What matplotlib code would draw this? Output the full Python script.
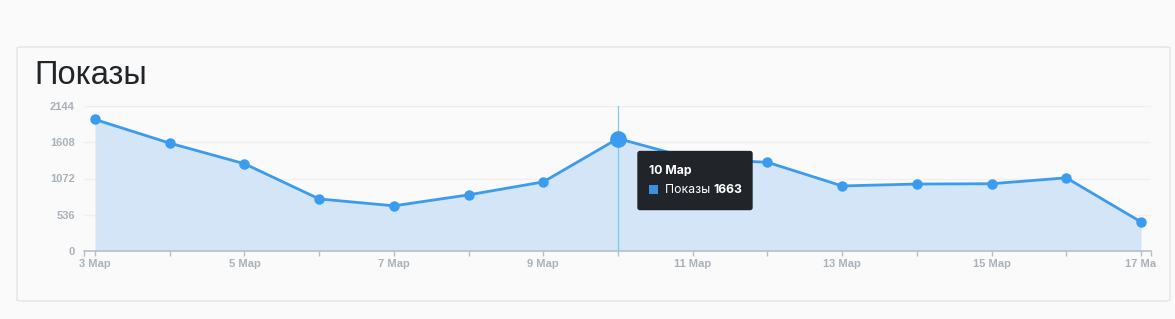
import matplotlib.pyplot as plt
import numpy as np
from matplotlib.patches import FancyBboxPatch, Rectangle

days = [3, 4, 5, 6, 7, 8, 9, 10, 11, 12, 13, 14, 15, 16, 17]
views = [1945, 1595, 1290, 770, 668, 830, 1022, 1663, 1362, 1312, 962, 990, 995, 1082, 430]
month = 'Мар'
yticks = [0, 536, 1072, 1608, 2144]
hover = 7  # index of hovered point (10 Мар)

line_c = '#3b9bee'
fill_c = '#d3e5f6'
grid_c = '#efefef'
axis_c = '#b6bfc8'
label_c = '#a9b1b9'

plt.rcParams['font.family'] = ['Liberation Sans', 'DejaVu Sans']

fig = plt.figure(figsize=(11.75, 3.19), dpi=100)
fig.patch.set_facecolor('#fafafa')

# card
card = FancyBboxPatch((17 / 1175, 1 - 301 / 319), (1170 - 17) / 1175, (301 - 47) / 319,
                      boxstyle='round,pad=0,rounding_size=0.004', transform=fig.transFigure,
                      facecolor='#fafafa', edgecolor='#e4e4e4', linewidth=1, zorder=-5)
fig.patches.append(card)

fig.text(34 / 1175, 1 - 75 / 319, 'Показы', fontsize=23.5, color='#212529', va='center', ha='left')

ax = fig.add_axes([84 / 1175, 1 - 251 / 319, (1151 - 84) / 1175, (251 - 106) / 319])
ax.set_facecolor('none')
per_day = (1141 - 95) / 14
ax.set_xlim(3 - 11 / per_day, 17 + 10 / per_day)
ax.set_ylim(0, 2144)

ax.fill_between(days, views, 0, color=fill_c, linewidth=0, zorder=1)
ax.plot(days, views, color=line_c, linewidth=2, marker='o', markersize=6.5, zorder=3, clip_on=False)
ax.plot(days[hover], views[hover], 'o', color=line_c, markersize=11, zorder=4)
ax.axvline(days[hover], color='#7ccaea', linewidth=0.9, zorder=2)

ax.set_yticks(yticks)
ax.set_yticklabels([str(v) for v in yticks])
for v in yticks[1:]:
    ax.axhline(v, color=grid_c, linewidth=1, zorder=0)

labels = [f'{d} {month}' if (d - 3) % 2 == 0 else '' for d in days]
labels[-1] = f'{days[-1]} Ма'  # clipped at the card edge in the original
ax.set_xticks(days)
ax.set_xticklabels(labels, fontweight='bold')
ax.set_xticks(list(ax.get_xlim()), minor=True)
ax.tick_params(axis='x', which='both', length=3.6, width=1, color=axis_c, pad=2.5,
               labelsize=8, labelcolor=label_c)
ax.tick_params(axis='y', length=0, pad=6.5, labelsize=8, labelcolor=label_c)
for lab in ax.get_yticklabels():
    lab.set_fontweight('bold')

for s in ['top', 'right', 'left']:
    ax.spines[s].set_visible(False)
ax.spines['bottom'].set_color(axis_c)
ax.spines['bottom'].set_linewidth(1.2)

# tooltip
fig.canvas.draw()
px, py = ax.transData.transform((days[hover], views[hover]))
left, top = px + 20, py - 13
w, h = 114, 58
tip = FancyBboxPatch((left, top - h), w, h, boxstyle='round,pad=0,rounding_size=2',
                     transform=None, facecolor='#212529', edgecolor='#212529', zorder=10)
fig.patches.append(tip)
fig.text(left + 11, top - 19, f'{days[hover]} {month}', transform=None, color='white',
         fontsize=8.8, fontweight='bold', va='center', family=['Inter', 'DejaVu Sans'], zorder=11)
sq = Rectangle((left + 11, top - 42), 9, 9, transform=None, facecolor='#3d8fe0', zorder=11)
fig.patches.append(sq)
t1 = fig.text(left + 27, top - 38, 'Показы ', transform=None, color='white', fontsize=8.8,
              va='center', family=['Inter', 'DejaVu Sans'], zorder=11)
fig.canvas.draw()
bb = t1.get_window_extent()
fig.text(bb.x1, top - 38, str(views[hover]), transform=None, color='white', fontsize=8.8,
         fontweight='bold', va='center', family=['Inter', 'DejaVu Sans'], zorder=11)

fig.savefig('out.png', dpi=100, facecolor=fig.get_facecolor())
